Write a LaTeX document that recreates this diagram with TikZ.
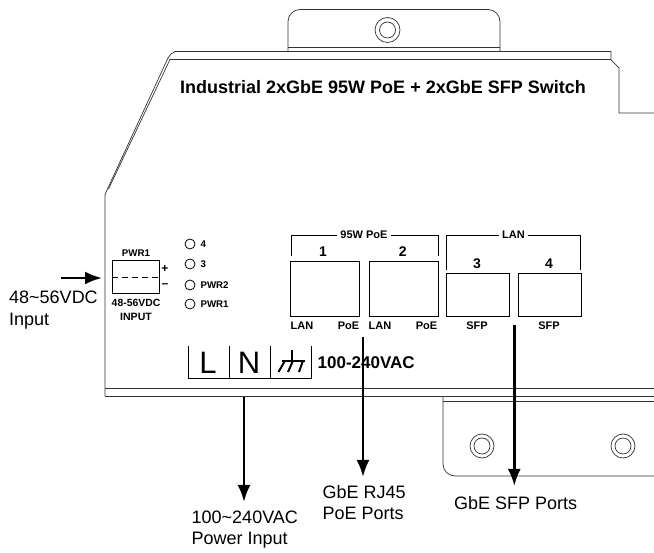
\documentclass[tikz,border=0pt]{standalone}
\usepackage{fontspec}
\setmainfont{Liberation Sans}
\usetikzlibrary{arrows.meta}
\usetikzlibrary{positioning}
\colorlet{chassis}{black!80}
\begin{document}
\begin{tikzpicture}[
x=1pt,y=-1pt,
Chassis/.style={draw=chassis,line width=0.7pt},
Ports/.style={draw=black,line width=1pt},
Bracket/.style={draw=black,line width=0.9pt},
Leds/.style={circle,draw=black,line width=0.8pt,minimum size=10pt,inner sep=0pt},
Callout/.style={-{Latex[length=17pt,width=13pt]},line width=2.6pt,black},
TinyText/.style={font=\bfseries\fontsize{9.7}{10}\selectfont,inner sep=0pt},
PortText/.style={font=\bfseries\fontsize{11}{12}\selectfont,inner sep=0pt},
NumText/.style={font=\bfseries\fontsize{14}{14}\selectfont,inner sep=0pt},
Caption/.style={font=\fontsize{18}{21.5}\selectfont,align=left,anchor=west,inner sep=0pt}
]
\useasboundingbox (0,0) rectangle (654,553);

% chassis
\draw[Chassis] (105,396.5)--(105,195)--(107,190)--(168,58) to[bend left=20] (175,51.5)--(611,51.5)--(611,60)--(619,68)--(619,113)--(654,113);
\draw[Chassis] (108.5,189)--(170,59.5)--(611,59.5);
\draw[Chassis] (105,388)--(654,388);
\draw[Chassis] (105,396.5)--(654,396.5);

% upper tab
\draw[Chassis,rounded corners=12pt] (288,51)--(288,9.5)--(500,9.5)--(500,51);
\draw[Chassis] (288,47)--(500,47);
\coordinate (TopHole) at (387.5,30);
\draw[Chassis] (TopHole) circle (12.5);
\draw[Chassis] (TopHole) circle (8);

% lower tab
\draw[Chassis,rounded corners=12pt] (443,397)--(443,476)--(654,476);
\draw[Chassis] (443,401)--(654,401);
\foreach \Xh in {482,623} {
\draw[Chassis] (\Xh,446) circle (12);
\draw[Chassis] (\Xh,446) circle (8);
}

\node[font=\bfseries\fontsize{18}{20}\selectfont,inner sep=0pt] (title) at (383,87.5) {Industrial 2xGbE 95W PoE + 2xGbE SFP Switch};

% dc terminal
\node[Ports,minimum width=47pt,minimum height=33pt,inner sep=0pt] (terminal) at (135.5,277.5) {};
\draw[line width=0.8pt,dash pattern=on 6pt off 4pt] (terminal.west)--(terminal.east);
\node[TinyText] (pwrtitle) at (136,253) {PWR1};
\node[TinyText,font=\bfseries\fontsize{10.4}{11}\selectfont] (dcrange) at (136,303) {48-56VDC};
\node[TinyText,font=\bfseries\fontsize{10.6}{11}\selectfont] (dcinput) at (136,316.5) {INPUT};
\node[NumText,font=\bfseries\fontsize{12}{12}\selectfont] (plus) at (165,269) {+};
\node[NumText,font=\bfseries\fontsize{12}{12}\selectfont] (minus) at (165,285.7) {\textendash};

% leds
\foreach \Ya/\Na/\La in {244/leda/4,264/ledb/3,285/ledc/PWR2,304/ledd/PWR1} {
\node[Leds] (\Na) at (190,\Ya) {};
\node[TinyText,right=5pt of \Na] (\Na text) {\La};
}

% power terminal
\draw[line width=0.8pt] (188.3,346)--(188.3,378);
\draw[line width=0.8pt] (229,346)--(229,378);
\draw[line width=0.8pt] (270,346)--(270,378);
\draw[line width=0.8pt] (311,346)--(311,378);
\draw[line width=1.6pt] (188,378.7)--(312,378.7);
\node[font=\fontsize{31}{31}\selectfont,inner sep=0pt] (lineL) at (208,362.5) {L};
\node[font=\fontsize{31}{31}\selectfont,inner sep=0pt] (lineN) at (249,362.5) {N};
\draw[line width=2pt] (281.7,360.7)--(305,360.7);
\draw[line width=2pt] (292,350.5)--(292,360.7);
\draw[line width=2pt] (285,360.7)--(278.5,372);
\draw[line width=2pt] (293,360.7)--(288,372);
\draw[line width=2pt] (303,360.7)--(299,372);
\node[font=\bfseries\fontsize{17}{18}\selectfont,inner sep=0pt,anchor=west] (vac) at (317.5,363) {100-240VAC};

% rj45 ports
\node[Ports,minimum width=69pt,minimum height=55pt,inner sep=0pt] (portA) at (324.5,289.5) {};
\node[Ports,minimum width=69pt,minimum height=55pt,inner sep=0pt,right=9pt of portA] (portB) {};
\node[NumText] (numA) at (323,251.7) {1};
\node[NumText] (numB) at (402.7,251.7) {2};
\node[PortText] (lanA) at (302,326) {LAN};
\node[PortText] (poeA) at (348.5,326) {PoE};
\node[PortText] (lanB) at (380,326) {LAN};
\node[PortText] (poeB) at (426.5,326) {PoE};
\node[PortText] (poetitle) at (364,235) {95W PoE};
\draw[Bracket] ([xshift=-3pt]poetitle.west)-|(291,256);
\draw[Bracket] ([xshift=3pt]poetitle.east)-|(438,256);

% sfp ports
\node[Ports,minimum width=63pt,minimum height=43pt,inner sep=0pt] (portC) at (477.5,295.5) {};
\node[Ports,minimum width=63pt,minimum height=43pt,inner sep=0pt,right=8pt of portC] (portD) {};
\node[NumText] (numC) at (477,264) {3};
\node[NumText] (numD) at (549,264) {4};
\node[PortText] (sfpC) at (477,326) {SFP};
\node[PortText] (sfpD) at (549,326) {SFP};
\node[PortText] (lantitle) at (513.5,235) {LAN};
\draw[Bracket] ([xshift=-3pt]lantitle.west)-|(446,270);
\draw[Bracket] ([xshift=3pt]lantitle.east)-|(580,270);

% callouts
\node[Caption] (dclabel) at (9,310) {48\textasciitilde56VDC\\Input};
\node[Caption] (aclabel) at (191.5,529.5) {100\textasciitilde240VAC\\Power Input};
\node[Caption] (rjlabel) at (322.5,502.5) {GbE RJ45\\PoE Ports};
\node[Caption] (sfplabel) at (454,503) {GbE SFP Ports};
\coordinate (dcstart) at (61,278);
\coordinate (dcend) at (102,278);
\coordinate (acstart) at (244,397);
\coordinate (acend) at (244,502);
\coordinate (rjstart) at (363,337);
\coordinate (rjend) at (363,477);
\coordinate (sfpstart) at (514.3,325);
\coordinate (sfpend) at (514.3,486);
\draw[Callout] (dcstart)--(dcend);
\draw[Callout] (acstart)--(acend);
\draw[Callout] (rjstart)--(rjend);
\draw[Callout] (sfpstart)--(sfpend);
\end{tikzpicture}
\end{document}
